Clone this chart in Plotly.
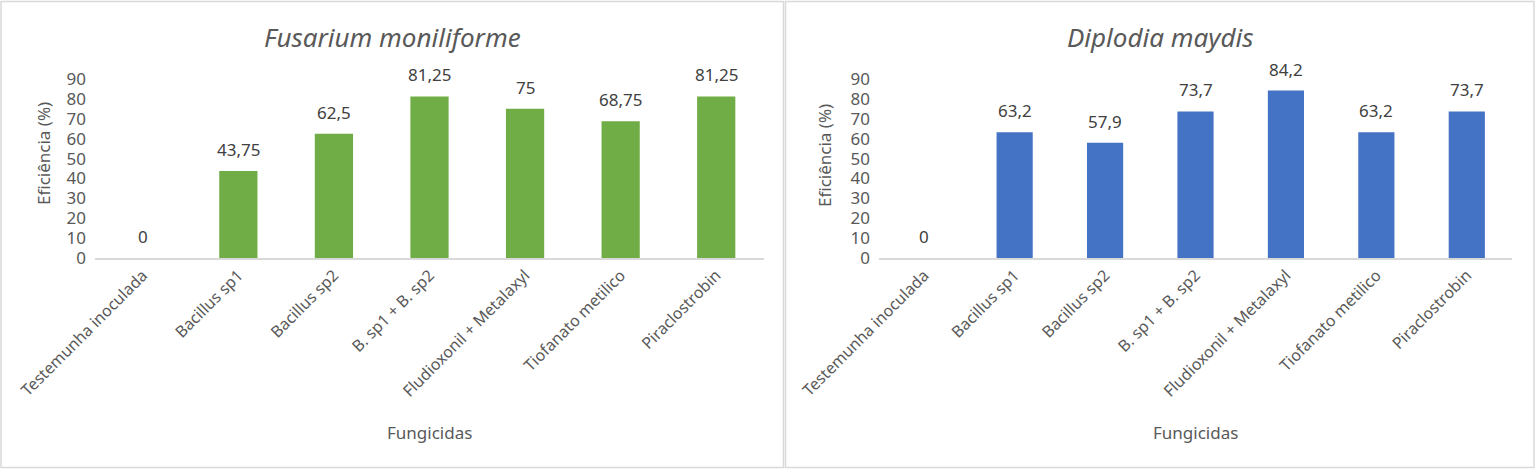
import plotly.graph_objects as go

W, H = 1536, 470

categories = ["Testemunha inoculada", "Bacillus sp1", "Bacillus sp2", "B. sp1 + B. sp2",
              "Fludioxonil + Metalaxyl", "Tiofanato metilico", "Piraclostrobin"]
fusarium = [0, 43.75, 62.5, 81.25, 75, 68.75, 81.25]
diplodia = [0, 63.2, 57.9, 73.7, 84.2, 63.2, 73.7]
titles = ["Fusarium moniliforme", "Diplodia maydis"]
y_title = "Eficiência (%)"
x_title = "Fungicidas"
y_ticks = list(range(0, 100, 10))

FONT = "Noto Sans"
TXT = "#595959"
GRID = "#D9D9D9"
GREEN = "#70AD47"
BLUE = "#4472C4"


def px(x):
    return x / W


def py(y):
    return 1 - y / H


def fmt(v):
    s = ("%g" % v)
    return s.replace(".", ",")


fig = go.Figure()

panels = [
    dict(vals=fusarium, color=GREEN, xd=(95, 764), box=(1, 1.5, 783.5, 467.5), xa="x", ya="y",
         ytx=44, yty=154),
    dict(vals=diplodia, color=BLUE, xd=(879, 1512), box=(785.5, 1.5, 1534, 467.5), xa="x2", ya="y2",
         ytx=824, yty=156),
]

y_dom = (py(258), py(79))

annotations = []
shapes = []
for i, p in enumerate(panels):
    fig.add_trace(go.Bar(x=categories, y=p["vals"], marker=dict(color=p["color"], line=dict(width=0)),
                         xaxis=p["xa"], yaxis=p["ya"], showlegend=False, hoverinfo="x+y"))
    sfx = "" if i == 0 else "2"
    fig.layout["xaxis" + sfx] = dict(
        domain=[px(p["xd"][0]), px(p["xd"][1])], anchor="y" + sfx, automargin=False,
        showline=True, linecolor=GRID, linewidth=1.5, showgrid=False, zeroline=False,
        ticks="", tickangle=-45, tickfont=dict(family=FONT, size=16, color=TXT),
        type="category", fixedrange=True,
    )
    fig.layout["yaxis" + sfx] = dict(
        domain=list(y_dom), anchor="x" + sfx, range=[0, 90], automargin=False,
        tickvals=y_ticks, ticktext=[str(t) for t in y_ticks],
        showline=False, showgrid=False, zeroline=False, ticks="",
        tickfont=dict(family=FONT, size=17, color=TXT), ticklabelstandoff=8, fixedrange=True,
    )
    # data labels
    for c, v in zip(categories, p["vals"]):
        annotations.append(dict(x=c, y=v, xref=p["xa"], yref=p["ya"], text=fmt(v),
                                showarrow=False, yanchor="bottom", yshift=8,
                                font=dict(family=FONT, size=17, color="#404040")))
    x0, y0, x1, y1 = p["box"]
    cx = (x0 + x1) / 2
    # title
    annotations.append(dict(x=px(cx), y=py(37), xref="paper", yref="paper", text="<i>%s</i>" % titles[i],
                            showarrow=False, xanchor="center", yanchor="middle",
                            font=dict(family=FONT, size=26, color=TXT)))
    # y title
    annotations.append(dict(x=px(p["ytx"]), y=py(p["yty"]), xref="paper", yref="paper", text=y_title,
                            showarrow=False, textangle=-90, xanchor="center", yanchor="middle",
                            font=dict(family=FONT, size=17, color=TXT)))
    # x title
    xc = (p["xd"][0] + p["xd"][1]) / 2
    annotations.append(dict(x=px(xc), y=py(432), xref="paper", yref="paper", text=x_title,
                            showarrow=False, xanchor="center", yanchor="middle",
                            font=dict(family=FONT, size=17, color=TXT)))
    shapes.append(dict(type="rect", xref="paper", yref="paper", x0=px(x0), x1=px(x1), y0=py(y1), y1=py(y0),
                       line=dict(color=GRID, width=1.5), fillcolor="rgba(0,0,0,0)", layer="below"))

fig.update_layout(
    width=W, height=H, margin=dict(l=0, r=0, t=0, b=0, autoexpand=False),
    paper_bgcolor="white", plot_bgcolor="white",
    bargap=0.6, annotations=annotations, shapes=shapes,
    font=dict(family=FONT, color=TXT),
)

fig.write_html("out.html", config={"displayModeBar": False})
